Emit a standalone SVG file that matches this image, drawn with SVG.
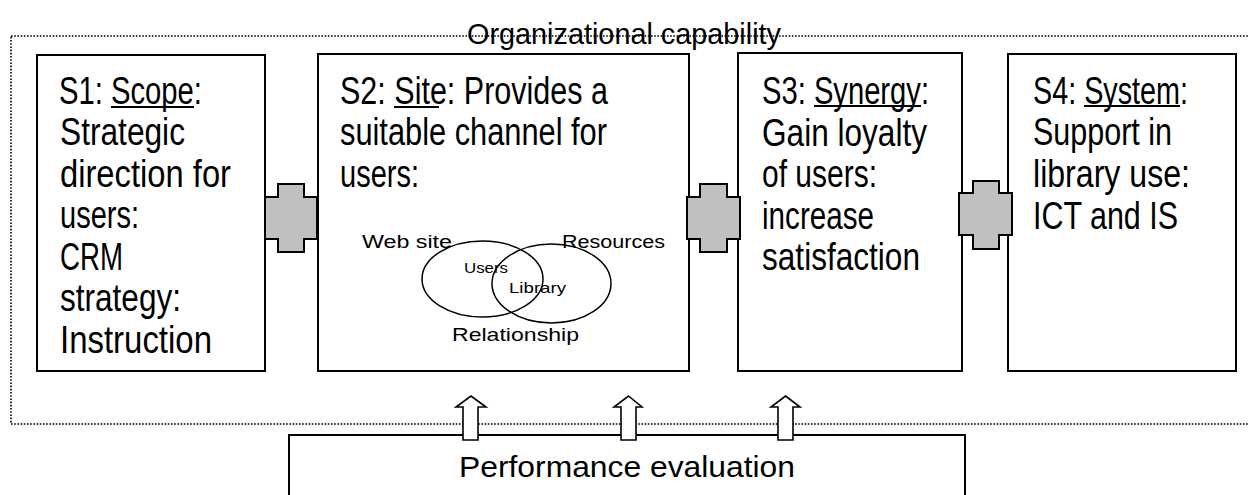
<svg xmlns="http://www.w3.org/2000/svg" width="1248" height="495" viewBox="0 0 1248 495">
<style>
.box{fill:#fff;stroke:#000;stroke-width:2}
.dot{fill:none;stroke:#000;stroke-width:1.6;stroke-dasharray:1.6 1.6}
.t{font-family:"Liberation Sans",Arial,sans-serif;font-size:38px;fill:#000}
.s{font-family:"Liberation Sans",Arial,sans-serif;fill:#000}
.ul{stroke:#000;stroke-width:2}
.cross{fill:#c0c0c0;stroke:#000;stroke-width:2;stroke-linejoin:miter}
.arr{fill:#fff;stroke:#000;stroke-width:1.6}
.ell{fill:none;stroke:#000;stroke-width:1.5}
</style>
<rect width="1248" height="495" fill="#fff"/>
<g id="frame">
<rect class="dot" x="11" y="36" width="1250" height="388"/>
<text class="s" x="467" y="44" font-size="30" textLength="314" lengthAdjust="spacingAndGlyphs">Organizational capability</text>
</g>
<g id="s1">
<rect class="box" x="37" y="55" width="228" height="316"/>
<text class="t" x="59" y="104" textLength="143" lengthAdjust="spacingAndGlyphs">S1: Scope:</text>
<line class="ul" x1="111" y1="107" x2="194" y2="107"/>
<text class="t" x="60" y="145" textLength="125" lengthAdjust="spacingAndGlyphs">Strategic</text>
<text class="t" x="60" y="187" textLength="171" lengthAdjust="spacingAndGlyphs">direction for</text>
<text class="t" x="60" y="228" textLength="79" lengthAdjust="spacingAndGlyphs">users:</text>
<text class="t" x="60" y="270" textLength="63" lengthAdjust="spacingAndGlyphs">CRM</text>
<text class="t" x="60" y="311" textLength="121" lengthAdjust="spacingAndGlyphs">strategy:</text>
<text class="t" x="60" y="353" textLength="152" lengthAdjust="spacingAndGlyphs">Instruction</text>
</g>
<g id="s2">
<rect class="box" x="318" y="54" width="371" height="317"/>
<text class="t" x="340" y="104" textLength="268" lengthAdjust="spacingAndGlyphs">S2: Site: Provides a</text>
<line class="ul" x1="394" y1="107" x2="439" y2="107"/>
<text class="t" x="340" y="145" textLength="267" lengthAdjust="spacingAndGlyphs">suitable channel for</text>
<text class="t" x="340" y="187" textLength="79" lengthAdjust="spacingAndGlyphs">users:</text>
<ellipse class="ell" cx="482.5" cy="279" rx="60.5" ry="38"/>
<ellipse class="ell" cx="551.5" cy="283.5" rx="59.5" ry="39.5"/>
<text class="s" x="362" y="248" font-size="18" textLength="90" lengthAdjust="spacingAndGlyphs">Web site</text>
<text class="s" x="562" y="248" font-size="18" textLength="103" lengthAdjust="spacingAndGlyphs">Resources</text>
<text class="s" x="464" y="273" font-size="15" textLength="44" lengthAdjust="spacingAndGlyphs">Users</text>
<text class="s" x="509" y="293" font-size="15" textLength="57" lengthAdjust="spacingAndGlyphs">Library</text>
<text class="s" x="452" y="341" font-size="19" textLength="127" lengthAdjust="spacingAndGlyphs">Relationship</text>
</g>
<g id="s3">
<rect class="box" x="738" y="53" width="224" height="318"/>
<text class="t" x="762" y="104" textLength="167" lengthAdjust="spacingAndGlyphs">S3: Synergy:</text>
<line class="ul" x1="814" y1="106" x2="921" y2="106"/>
<text class="t" x="762" y="146" textLength="165" lengthAdjust="spacingAndGlyphs">Gain loyalty</text>
<text class="t" x="762" y="187" textLength="115" lengthAdjust="spacingAndGlyphs">of users:</text>
<text class="t" x="762" y="229" textLength="112" lengthAdjust="spacingAndGlyphs">increase</text>
<text class="t" x="762" y="270" textLength="158" lengthAdjust="spacingAndGlyphs">satisfaction</text>
</g>
<g id="s4">
<rect class="box" x="1008" y="54" width="228" height="317"/>
<text class="t" x="1033" y="104" textLength="155" lengthAdjust="spacingAndGlyphs">S4: System:</text>
<line class="ul" x1="1084" y1="106" x2="1180" y2="106"/>
<text class="t" x="1033" y="145" textLength="139" lengthAdjust="spacingAndGlyphs">Support in</text>
<text class="t" x="1033" y="187" textLength="157" lengthAdjust="spacingAndGlyphs">library use:</text>
<text class="t" x="1033" y="229" textLength="145" lengthAdjust="spacingAndGlyphs">ICT and IS</text>
</g>
<g id="perf">
<rect class="box" x="289" y="435" width="676" height="70"/>
<text class="s" x="459" y="477" font-size="29" textLength="336" lengthAdjust="spacingAndGlyphs">Performance evaluation</text>
</g>
<g id="connectors">
<path class="cross" d="M278,184 H304 V197 H317 V239 H304 V252 H278 V239 H265 V197 H278 Z"/>
<path class="cross" d="M700,184 H727 V197 H740 V239 H727 V252 H700 V239 H687 V197 H700 Z"/>
<path class="cross" d="M973,181 H999 V193 H1012 V235 H999 V249 H973 V235 H959 V193 H973 Z"/>
<path class="arr" d="M471,396 L486,407 H478 V440 H463 V407 H456 Z"/>
<path class="arr" d="M628.5,396 L642,407 H636 V440 H621 V407 H614 Z"/>
<path class="arr" d="M785.5,396 L800,407 H793 V440 H778 V407 H771 Z"/>
</g>
</svg>
